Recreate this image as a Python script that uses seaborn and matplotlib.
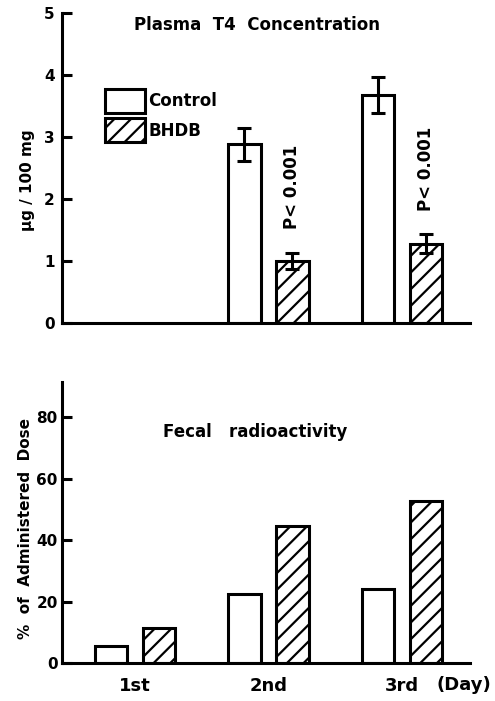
import matplotlib
matplotlib.use("Agg")
import matplotlib.pyplot as plt
import seaborn as sns
import pandas as pd

# ---- data ----
days = ["1st", "2nd", "3rd"]
groups = ["Control", "BHDB"]

t4_days = ["2nd", "3rd"]
t4_control = [2.88, 3.68]
t4_control_err = [0.27, 0.29]
t4_bhdb = [1.00, 1.28]
t4_bhdb_err = [0.13, 0.15]
p_labels = ["P< 0.001", "P< 0.001"]

fecal_control = [5.5, 22.4, 24.0]
fecal_bhdb = [11.4, 44.5, 52.7]

t4_yticks = [0, 1, 2, 3, 4, 5]
fecal_yticks = [0, 20, 40, 60, 80]

# ---- style ----
sns.set_theme(style="ticks")
plt.rcParams["font.family"] = ["DejaVu Sans"]
plt.rcParams["font.weight"] = "bold"
plt.rcParams["text.color"] = "black"
plt.rcParams["axes.labelcolor"] = "black"
plt.rcParams["hatch.linewidth"] = 1.6
plt.rcParams["hatch.color"] = "black"

LW = 2.2
FS = 12

fig = plt.figure(figsize=(4.95, 7.01), dpi=100, facecolor="white")
ax1 = fig.add_axes([0.125, 0.5392, 0.824, 0.4422])
ax2 = fig.add_axes([0.125, 0.0542, 0.824, 0.4009])

df_t4 = pd.DataFrame({
    "day": t4_days * 2,
    "group": ["Control"] * len(t4_days) + ["BHDB"] * len(t4_days),
    "value": t4_control + t4_bhdb,
    "err": t4_control_err + t4_bhdb_err,
})
df_fecal = pd.DataFrame({
    "day": days * 2,
    "group": ["Control"] * len(days) + ["BHDB"] * len(days),
    "value": fecal_control + fecal_bhdb,
})

pal = {"Control": "white", "BHDB": "white"}
common = dict(x="day", y="value", hue="group", order=days, hue_order=groups,
              palette=pal, edgecolor="black", linewidth=LW, width=0.72,
              gap=0.33, errorbar=None, legend=False, saturation=1)

sns.barplot(data=df_t4, ax=ax1, **common)
sns.barplot(data=df_fecal, ax=ax2, **common)

for ax in (ax1, ax2):
    for p in ax.containers[1]:
        p.set_hatch("//")

# error bars + p-value labels on top panel
for cont, grp in zip(ax1.containers, groups):
    sub = df_t4[df_t4["group"] == grp].set_index("day")
    for p in cont:
        h = p.get_height()
        if not (h == h):
            continue
        cx = p.get_x() + p.get_width() / 2
        day = days[int(round(cx))]
        err = sub.loc[day, "err"]
        ax1.errorbar(cx, h, yerr=err, fmt="none", ecolor="black",
                     elinewidth=LW, capsize=5, capthick=LW)
        if grp == "BHDB":
            i = t4_days.index(day)
            ax1.text(cx, h + err + 0.38, p_labels[i], rotation=90,
                     ha="center", va="bottom", fontsize=FS, fontweight="bold")

# legend
ax1.legend(handles=list(ax1.containers), labels=groups, loc="upper left",
           bbox_to_anchor=(0.105, 0.755), frameon=False, borderpad=0,
           borderaxespad=0, handlelength=2.4, handleheight=1.85,
           labelspacing=0.3, handletextpad=0.2, fontsize=FS)

# axes styling
for ax in (ax1, ax2):
    sns.despine(ax=ax)
    for s in ("left", "bottom"):
        ax.spines[s].set_linewidth(LW)
        ax.spines[s].set_color("black")
    ax.set_xlim(-0.55, 2.51)
    ax.set_xlabel("")
    ax.tick_params(axis="y", direction="in", length=7, width=LW,
                   labelsize=11, pad=3, colors="black")
    ax.tick_params(axis="x", length=0, labelsize=13, pad=10, colors="black")

ax1.set_ylim(0, 5)
ax1.set_yticks(t4_yticks)
ax1.tick_params(axis="x", labelbottom=False)
ax1.tick_params(axis="y", pad=5)
ax1.set_ylabel("μg / 100 mg", fontsize=11, fontweight="bold")
ax1.yaxis.set_label_coords(-0.065, 0.46)
ax1.text(0.478, 0.99, "Plasma  T4  Concentration", transform=ax1.transAxes,
         ha="center", va="top", fontsize=FS, fontweight="bold")

ax2.set_ylim(0, 91.4)
ax2.set_yticks(fecal_yticks)
ax2.set_ylabel("%  of  Administered  Dose", fontsize=11, fontweight="bold")
ax2.yaxis.set_label_coords(-0.072, 0.48)
ax2.text(0.473, 0.854, "Fecal   radioactivity", transform=ax2.transAxes,
         ha="center", va="top", fontsize=FS, fontweight="bold")
fig.text(0.993, 1 - 685 / 701, "(Day)", ha="right", va="center",
         fontsize=13, fontweight="bold")

fig.savefig("out.png", dpi=100, facecolor="white")
